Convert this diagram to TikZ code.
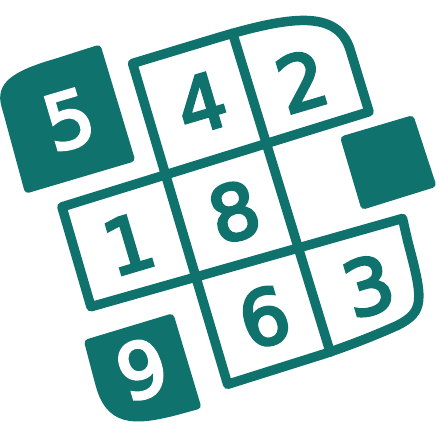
\documentclass[tikz,border=0pt]{standalone}
\usepackage{fontspec}
\newfontfamily\digitfont{DejaVu Sans}[FakeBold=4]
\definecolor{sudoku}{RGB}{16,114,108}
\tikzset{
  gridline/.style={draw=sudoku, line width=9.5pt, line join=round, line cap=round},
  darkcell/.style={fill=sudoku, rounded corners=4pt},
  digit/.style={font=\digitfont\fontsize{76}{76}\selectfont, text=sudoku, inner sep=0pt, rotate=16.5},
  wdigit/.style={digit, text=white}
}
\begin{document}
\begin{tikzpicture}[x=1pt,y=-1pt]
\useasboundingbox (0,0) rectangle (439,439);
\begin{scope}[shift={(164,173)}, rotate=16.5]
  % dark cells
  \fill[darkcell] (-24.5,-141.5) -- (-24,-19.5) -- (-139,-19.5) -- (-137,-105)
     .. controls (-137,-135) and (-115,-140.5) .. (-70,-140.5) -- cycle;
  \fill[darkcell] (-124.5,137.5) -- (-31,137) -- (-30.7,236.3) -- (-45,236)
     .. controls (-95,235) and (-125,230) .. (-126,185) -- cycle;
  \fill[darkcell] (179,15.2) -- (255.5,15.2) -- (257.6,90.5) -- (179,91.6) -- cycle;
  % grid
  \draw[gridline] (1,220.7) -- (1,-114) -- (90,-114.5)
     .. controls (165,-114.5) and (213,-108) .. (213.5,-65) -- (214,-0.5)
     -- (-107.5,3.5) -- (-108,107.5) -- (215.8,111.3) -- (214.3,135)
     .. controls (212.5,195) and (211,207) .. (180,212.5)
     .. controls (150,216.5) and (120,218.5) .. (100,219) -- cycle;
  \draw[gridline] (105.5,-114.5) -- (108.5,219);
  % digits
  \node[wdigit] (d5) at (-76,-78) {5};
  \node[digit] (d4) at (55.6,-56.5) {4};
  \node[digit] (d2) at (158.2,-49.3) {2};
  \node[digit] (d1) at (-54,57.8) {1};
  \node[digit] (d8) at (56.3,57) {8};
  \node[digit] (d6) at (55.2,166.6) {6};
  \node[digit] (d3) at (163.9,166.2) {3};
  \node[wdigit] (d9) at (-76.8,181.9) {9};
\end{scope}
\end{tikzpicture}
\end{document}
